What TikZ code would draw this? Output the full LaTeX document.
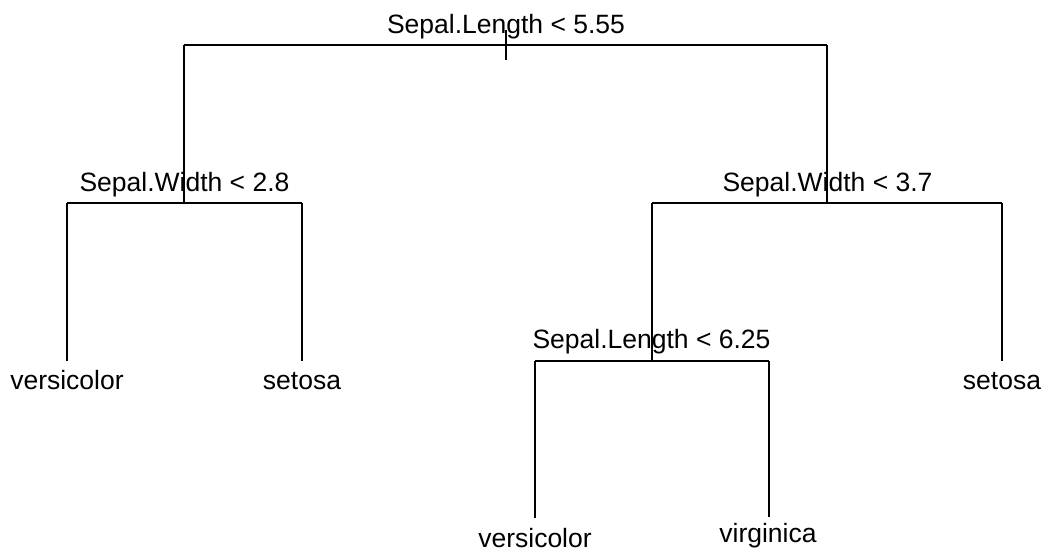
\documentclass[tikz,border=0pt]{standalone}
\usepackage{fontspec}
\setmainfont{Liberation Sans}
\begin{document}
\begin{tikzpicture}[x=1pt,y=-1pt,
  edge/.style={line width=2pt,line cap=butt},
  lbl/.style={anchor=base,inner sep=0pt,font=\fontsize{26.5}{30}\selectfont}]
\useasboundingbox (0,0) rectangle (1046,552);
% tree points
\coordinate (top) at (506,30);
\coordinate (bot) at (506,60);
\coordinate (rootL) at (184,45);
\coordinate (rootR) at (827,45);
\coordinate (a) at (184,203);
\coordinate (b) at (827,203);
\coordinate (aL) at (67,203);
\coordinate (aR) at (302,203);
\coordinate (aLe) at (67,361);
\coordinate (aRe) at (302,361);
\coordinate (bL) at (652,203);
\coordinate (bR) at (1002,203);
\coordinate (c) at (652,361);
\coordinate (bRe) at (1002,361);
\coordinate (cL) at (535,361);
\coordinate (cR) at (769,361);
\coordinate (cLe) at (535,518);
\coordinate (cRe) at (769,517);
% connectors
\draw[edge] (top) -- (bot);
\draw[edge] (rootL) -- (rootR);
\draw[edge] (rootL) -- (a);
\draw[edge] (rootR) -- (b);
\draw[edge] (aL) -- (aR);
\draw[edge] (aL) -- (aLe);
\draw[edge] (aR) -- (aRe);
\draw[edge] (bL) -- (bR);
\draw[edge] (bL) -- (c);
\draw[edge] (bR) -- (bRe);
\draw[edge] (cL) -- (cR);
\draw[edge] (cL) -- (cLe);
\draw[edge] (cR) -- (cRe);
% labels
\node[lbl] (t0) at (506,33) {Sepal.Length < 5.55};
\node[lbl] (t1) at (184.5,191) {Sepal.Width < 2.8};
\node[lbl] (t2) at (827.5,191) {Sepal.Width < 3.7};
\node[lbl] (t3) at (651.5,348) {Sepal.Length < 6.25};
\node[lbl] (l1) at (67,389) {versicolor};
\node[lbl] (l2) at (302,389) {setosa};
\node[lbl] (l3) at (1002,389) {setosa};
\node[lbl] (l4) at (535,547) {versicolor};
\node[lbl] (l5) at (768,542) {virginica};
\end{tikzpicture}
\end{document}
